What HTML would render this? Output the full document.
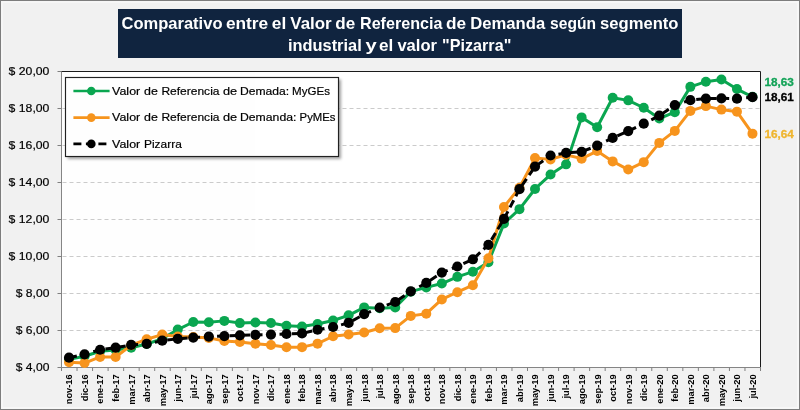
<!DOCTYPE html>
<html lang="es"><head><meta charset="utf-8"><title>Comparativo Valor de Referencia de Demanda</title>
<style>
html,body{margin:0;padding:0;background:#f1f1f1;overflow:hidden}
svg{display:block;will-change:transform;opacity:.999}
text{font-family:"Liberation Sans",sans-serif}
</style></head><body>
<svg width="800" height="410" viewBox="0 0 800 410">

<rect x="0" y="0" width="800" height="410" fill="#7d7d7d"/>
<rect x="1" y="1" width="798" height="408" fill="#f7f7f7"/>
<rect x="3" y="3" width="794" height="404" fill="#f1f1f1"/>
<rect x="118" y="9" width="564" height="49" fill="#10243f"/>
<text x="121.50" y="28.5" font-size="16.3" font-weight="bold" fill="#ffffff" textLength="101.0" lengthAdjust="spacingAndGlyphs">Comparativo</text>
<text x="225.90" y="28.5" font-size="16.3" font-weight="bold" fill="#ffffff" textLength="42.3" lengthAdjust="spacingAndGlyphs">entre</text>
<text x="271.80" y="28.5" font-size="16.3" font-weight="bold" fill="#ffffff" textLength="14.4" lengthAdjust="spacingAndGlyphs">el</text>
<text x="290.30" y="28.5" font-size="16.3" font-weight="bold" fill="#ffffff" textLength="41.4" lengthAdjust="spacingAndGlyphs">Valor</text>
<text x="335.30" y="28.5" font-size="16.3" font-weight="bold" fill="#ffffff" textLength="19.9" lengthAdjust="spacingAndGlyphs">de</text>
<text x="360.00" y="28.5" font-size="16.3" font-weight="bold" fill="#ffffff" textLength="82.4" lengthAdjust="spacingAndGlyphs">Referencia</text>
<text x="446.10" y="28.5" font-size="16.3" font-weight="bold" fill="#ffffff" textLength="20.1" lengthAdjust="spacingAndGlyphs">de</text>
<text x="470.30" y="28.5" font-size="16.3" font-weight="bold" fill="#ffffff" textLength="74.9" lengthAdjust="spacingAndGlyphs">Demanda</text>
<text x="550.10" y="28.5" font-size="16.3" font-weight="bold" fill="#ffffff" textLength="45.9" lengthAdjust="spacingAndGlyphs">según</text>
<text x="600.10" y="28.5" font-size="16.3" font-weight="bold" fill="#ffffff" textLength="78.4" lengthAdjust="spacingAndGlyphs">segmento</text>
<text x="288.00" y="51.3" font-size="16.3" font-weight="bold" fill="#ffffff" textLength="73.7" lengthAdjust="spacingAndGlyphs">industrial</text>
<text x="365.55" y="51.3" font-size="16.3" font-weight="bold" fill="#ffffff" textLength="11.2" lengthAdjust="spacingAndGlyphs">y</text>
<text x="379.05" y="51.3" font-size="16.3" font-weight="bold" fill="#ffffff" textLength="14.3" lengthAdjust="spacingAndGlyphs">el</text>
<text x="397.40" y="51.3" font-size="16.3" font-weight="bold" fill="#ffffff" textLength="39.6" lengthAdjust="spacingAndGlyphs">valor</text>
<text x="442.10" y="51.3" font-size="16.3" font-weight="bold" fill="#ffffff" textLength="69.2" lengthAdjust="spacingAndGlyphs">"Pizarra"</text>
<rect x="61.5" y="71.5" width="699.0" height="296.0" fill="#ffffff"/>
<line x1="62.5" x2="760.5" y1="330.5" y2="330.5" stroke="#cbcbcb" stroke-width="1" stroke-dasharray="4 3"/>
<line x1="62.5" x2="760.5" y1="293.5" y2="293.5" stroke="#cbcbcb" stroke-width="1" stroke-dasharray="4 3"/>
<line x1="62.5" x2="760.5" y1="256.5" y2="256.5" stroke="#cbcbcb" stroke-width="1" stroke-dasharray="4 3"/>
<line x1="62.5" x2="760.5" y1="219.5" y2="219.5" stroke="#cbcbcb" stroke-width="1" stroke-dasharray="4 3"/>
<line x1="62.5" x2="760.5" y1="182.5" y2="182.5" stroke="#cbcbcb" stroke-width="1" stroke-dasharray="4 3"/>
<line x1="62.5" x2="760.5" y1="145.5" y2="145.5" stroke="#cbcbcb" stroke-width="1" stroke-dasharray="4 3"/>
<line x1="62.5" x2="760.5" y1="108.5" y2="108.5" stroke="#cbcbcb" stroke-width="1" stroke-dasharray="4 3"/>
<path d="M61.0 71.5 H760.5 V367.5" fill="none" stroke="#1a1a1a" stroke-width="1"/>
<path d="M61.5 71.5 V367.5 H761.0" fill="none" stroke="#858585" stroke-width="1"/>
<line x1="57.5" x2="61.5" y1="367.5" y2="367.5" stroke="#7f7f7f" stroke-width="1"/>
<text x="15.8" y="371.4" font-size="11.8" fill="#000" stroke="#000" stroke-width="0.2" textLength="33.6" lengthAdjust="spacingAndGlyphs">$ 4,00</text>
<line x1="57.5" x2="61.5" y1="330.5" y2="330.5" stroke="#7f7f7f" stroke-width="1"/>
<text x="15.8" y="334.4" font-size="11.8" fill="#000" stroke="#000" stroke-width="0.2" textLength="33.6" lengthAdjust="spacingAndGlyphs">$ 6,00</text>
<line x1="57.5" x2="61.5" y1="293.5" y2="293.5" stroke="#7f7f7f" stroke-width="1"/>
<text x="15.8" y="297.4" font-size="11.8" fill="#000" stroke="#000" stroke-width="0.2" textLength="33.6" lengthAdjust="spacingAndGlyphs">$ 8,00</text>
<line x1="57.5" x2="61.5" y1="256.5" y2="256.5" stroke="#7f7f7f" stroke-width="1"/>
<text x="8.6" y="260.4" font-size="11.8" fill="#000" stroke="#000" stroke-width="0.2" textLength="40.8" lengthAdjust="spacingAndGlyphs">$ 10,00</text>
<line x1="57.5" x2="61.5" y1="219.5" y2="219.5" stroke="#7f7f7f" stroke-width="1"/>
<text x="8.6" y="223.4" font-size="11.8" fill="#000" stroke="#000" stroke-width="0.2" textLength="40.8" lengthAdjust="spacingAndGlyphs">$ 12,00</text>
<line x1="57.5" x2="61.5" y1="182.5" y2="182.5" stroke="#7f7f7f" stroke-width="1"/>
<text x="8.6" y="186.4" font-size="11.8" fill="#000" stroke="#000" stroke-width="0.2" textLength="40.8" lengthAdjust="spacingAndGlyphs">$ 14,00</text>
<line x1="57.5" x2="61.5" y1="145.5" y2="145.5" stroke="#7f7f7f" stroke-width="1"/>
<text x="8.6" y="149.4" font-size="11.8" fill="#000" stroke="#000" stroke-width="0.2" textLength="40.8" lengthAdjust="spacingAndGlyphs">$ 16,00</text>
<line x1="57.5" x2="61.5" y1="108.5" y2="108.5" stroke="#7f7f7f" stroke-width="1"/>
<text x="8.6" y="112.4" font-size="11.8" fill="#000" stroke="#000" stroke-width="0.2" textLength="40.8" lengthAdjust="spacingAndGlyphs">$ 18,00</text>
<line x1="57.5" x2="61.5" y1="71.5" y2="71.5" stroke="#7f7f7f" stroke-width="1"/>
<text x="8.6" y="75.4" font-size="11.8" fill="#000" stroke="#000" stroke-width="0.2" textLength="40.8" lengthAdjust="spacingAndGlyphs">$ 20,00</text>
<line x1="61.50" x2="61.50" y1="367.5" y2="371.0" stroke="#7f7f7f" stroke-width="1"/>
<line x1="77.03" x2="77.03" y1="367.5" y2="371.0" stroke="#7f7f7f" stroke-width="1"/>
<line x1="92.57" x2="92.57" y1="367.5" y2="371.0" stroke="#7f7f7f" stroke-width="1"/>
<line x1="108.10" x2="108.10" y1="367.5" y2="371.0" stroke="#7f7f7f" stroke-width="1"/>
<line x1="123.63" x2="123.63" y1="367.5" y2="371.0" stroke="#7f7f7f" stroke-width="1"/>
<line x1="139.17" x2="139.17" y1="367.5" y2="371.0" stroke="#7f7f7f" stroke-width="1"/>
<line x1="154.70" x2="154.70" y1="367.5" y2="371.0" stroke="#7f7f7f" stroke-width="1"/>
<line x1="170.23" x2="170.23" y1="367.5" y2="371.0" stroke="#7f7f7f" stroke-width="1"/>
<line x1="185.77" x2="185.77" y1="367.5" y2="371.0" stroke="#7f7f7f" stroke-width="1"/>
<line x1="201.30" x2="201.30" y1="367.5" y2="371.0" stroke="#7f7f7f" stroke-width="1"/>
<line x1="216.83" x2="216.83" y1="367.5" y2="371.0" stroke="#7f7f7f" stroke-width="1"/>
<line x1="232.37" x2="232.37" y1="367.5" y2="371.0" stroke="#7f7f7f" stroke-width="1"/>
<line x1="247.90" x2="247.90" y1="367.5" y2="371.0" stroke="#7f7f7f" stroke-width="1"/>
<line x1="263.43" x2="263.43" y1="367.5" y2="371.0" stroke="#7f7f7f" stroke-width="1"/>
<line x1="278.97" x2="278.97" y1="367.5" y2="371.0" stroke="#7f7f7f" stroke-width="1"/>
<line x1="294.50" x2="294.50" y1="367.5" y2="371.0" stroke="#7f7f7f" stroke-width="1"/>
<line x1="310.03" x2="310.03" y1="367.5" y2="371.0" stroke="#7f7f7f" stroke-width="1"/>
<line x1="325.57" x2="325.57" y1="367.5" y2="371.0" stroke="#7f7f7f" stroke-width="1"/>
<line x1="341.10" x2="341.10" y1="367.5" y2="371.0" stroke="#7f7f7f" stroke-width="1"/>
<line x1="356.63" x2="356.63" y1="367.5" y2="371.0" stroke="#7f7f7f" stroke-width="1"/>
<line x1="372.17" x2="372.17" y1="367.5" y2="371.0" stroke="#7f7f7f" stroke-width="1"/>
<line x1="387.70" x2="387.70" y1="367.5" y2="371.0" stroke="#7f7f7f" stroke-width="1"/>
<line x1="403.23" x2="403.23" y1="367.5" y2="371.0" stroke="#7f7f7f" stroke-width="1"/>
<line x1="418.77" x2="418.77" y1="367.5" y2="371.0" stroke="#7f7f7f" stroke-width="1"/>
<line x1="434.30" x2="434.30" y1="367.5" y2="371.0" stroke="#7f7f7f" stroke-width="1"/>
<line x1="449.83" x2="449.83" y1="367.5" y2="371.0" stroke="#7f7f7f" stroke-width="1"/>
<line x1="465.37" x2="465.37" y1="367.5" y2="371.0" stroke="#7f7f7f" stroke-width="1"/>
<line x1="480.90" x2="480.90" y1="367.5" y2="371.0" stroke="#7f7f7f" stroke-width="1"/>
<line x1="496.43" x2="496.43" y1="367.5" y2="371.0" stroke="#7f7f7f" stroke-width="1"/>
<line x1="511.97" x2="511.97" y1="367.5" y2="371.0" stroke="#7f7f7f" stroke-width="1"/>
<line x1="527.50" x2="527.50" y1="367.5" y2="371.0" stroke="#7f7f7f" stroke-width="1"/>
<line x1="543.03" x2="543.03" y1="367.5" y2="371.0" stroke="#7f7f7f" stroke-width="1"/>
<line x1="558.57" x2="558.57" y1="367.5" y2="371.0" stroke="#7f7f7f" stroke-width="1"/>
<line x1="574.10" x2="574.10" y1="367.5" y2="371.0" stroke="#7f7f7f" stroke-width="1"/>
<line x1="589.63" x2="589.63" y1="367.5" y2="371.0" stroke="#7f7f7f" stroke-width="1"/>
<line x1="605.17" x2="605.17" y1="367.5" y2="371.0" stroke="#7f7f7f" stroke-width="1"/>
<line x1="620.70" x2="620.70" y1="367.5" y2="371.0" stroke="#7f7f7f" stroke-width="1"/>
<line x1="636.23" x2="636.23" y1="367.5" y2="371.0" stroke="#7f7f7f" stroke-width="1"/>
<line x1="651.77" x2="651.77" y1="367.5" y2="371.0" stroke="#7f7f7f" stroke-width="1"/>
<line x1="667.30" x2="667.30" y1="367.5" y2="371.0" stroke="#7f7f7f" stroke-width="1"/>
<line x1="682.83" x2="682.83" y1="367.5" y2="371.0" stroke="#7f7f7f" stroke-width="1"/>
<line x1="698.37" x2="698.37" y1="367.5" y2="371.0" stroke="#7f7f7f" stroke-width="1"/>
<line x1="713.90" x2="713.90" y1="367.5" y2="371.0" stroke="#7f7f7f" stroke-width="1"/>
<line x1="729.43" x2="729.43" y1="367.5" y2="371.0" stroke="#7f7f7f" stroke-width="1"/>
<line x1="744.97" x2="744.97" y1="367.5" y2="371.0" stroke="#7f7f7f" stroke-width="1"/>
<line x1="760.50" x2="760.50" y1="367.5" y2="371.0" stroke="#7f7f7f" stroke-width="1"/>
<text transform="translate(72.42,374.3) rotate(-90)" text-anchor="end" font-size="9.3" font-weight="bold" fill="#000">nov-16</text>
<text transform="translate(87.95,374.3) rotate(-90)" text-anchor="end" font-size="9.3" font-weight="bold" fill="#000">dic-16</text>
<text transform="translate(103.48,374.3) rotate(-90)" text-anchor="end" font-size="9.3" font-weight="bold" fill="#000">ene-17</text>
<text transform="translate(119.02,374.3) rotate(-90)" text-anchor="end" font-size="9.3" font-weight="bold" fill="#000">feb-17</text>
<text transform="translate(134.55,374.3) rotate(-90)" text-anchor="end" font-size="9.3" font-weight="bold" fill="#000">mar-17</text>
<text transform="translate(150.08,374.3) rotate(-90)" text-anchor="end" font-size="9.3" font-weight="bold" fill="#000">abr-17</text>
<text transform="translate(165.62,374.3) rotate(-90)" text-anchor="end" font-size="9.3" font-weight="bold" fill="#000">may-17</text>
<text transform="translate(181.15,374.3) rotate(-90)" text-anchor="end" font-size="9.3" font-weight="bold" fill="#000">jun-17</text>
<text transform="translate(196.68,374.3) rotate(-90)" text-anchor="end" font-size="9.3" font-weight="bold" fill="#000">jul-17</text>
<text transform="translate(212.22,374.3) rotate(-90)" text-anchor="end" font-size="9.3" font-weight="bold" fill="#000">ago-17</text>
<text transform="translate(227.75,374.3) rotate(-90)" text-anchor="end" font-size="9.3" font-weight="bold" fill="#000">sep-17</text>
<text transform="translate(243.28,374.3) rotate(-90)" text-anchor="end" font-size="9.3" font-weight="bold" fill="#000">oct-17</text>
<text transform="translate(258.82,374.3) rotate(-90)" text-anchor="end" font-size="9.3" font-weight="bold" fill="#000">nov-17</text>
<text transform="translate(274.35,374.3) rotate(-90)" text-anchor="end" font-size="9.3" font-weight="bold" fill="#000">dic-17</text>
<text transform="translate(289.88,374.3) rotate(-90)" text-anchor="end" font-size="9.3" font-weight="bold" fill="#000">ene-18</text>
<text transform="translate(305.42,374.3) rotate(-90)" text-anchor="end" font-size="9.3" font-weight="bold" fill="#000">feb-18</text>
<text transform="translate(320.95,374.3) rotate(-90)" text-anchor="end" font-size="9.3" font-weight="bold" fill="#000">mar-18</text>
<text transform="translate(336.48,374.3) rotate(-90)" text-anchor="end" font-size="9.3" font-weight="bold" fill="#000">abr-18</text>
<text transform="translate(352.02,374.3) rotate(-90)" text-anchor="end" font-size="9.3" font-weight="bold" fill="#000">may-18</text>
<text transform="translate(367.55,374.3) rotate(-90)" text-anchor="end" font-size="9.3" font-weight="bold" fill="#000">jun-18</text>
<text transform="translate(383.08,374.3) rotate(-90)" text-anchor="end" font-size="9.3" font-weight="bold" fill="#000">jul-18</text>
<text transform="translate(398.62,374.3) rotate(-90)" text-anchor="end" font-size="9.3" font-weight="bold" fill="#000">ago-18</text>
<text transform="translate(414.15,374.3) rotate(-90)" text-anchor="end" font-size="9.3" font-weight="bold" fill="#000">sep-18</text>
<text transform="translate(429.68,374.3) rotate(-90)" text-anchor="end" font-size="9.3" font-weight="bold" fill="#000">oct-18</text>
<text transform="translate(445.22,374.3) rotate(-90)" text-anchor="end" font-size="9.3" font-weight="bold" fill="#000">nov-18</text>
<text transform="translate(460.75,374.3) rotate(-90)" text-anchor="end" font-size="9.3" font-weight="bold" fill="#000">dic-18</text>
<text transform="translate(476.28,374.3) rotate(-90)" text-anchor="end" font-size="9.3" font-weight="bold" fill="#000">ene-19</text>
<text transform="translate(491.82,374.3) rotate(-90)" text-anchor="end" font-size="9.3" font-weight="bold" fill="#000">feb-19</text>
<text transform="translate(507.35,374.3) rotate(-90)" text-anchor="end" font-size="9.3" font-weight="bold" fill="#000">mar-19</text>
<text transform="translate(522.88,374.3) rotate(-90)" text-anchor="end" font-size="9.3" font-weight="bold" fill="#000">abr-19</text>
<text transform="translate(538.42,374.3) rotate(-90)" text-anchor="end" font-size="9.3" font-weight="bold" fill="#000">may-19</text>
<text transform="translate(553.95,374.3) rotate(-90)" text-anchor="end" font-size="9.3" font-weight="bold" fill="#000">jun-19</text>
<text transform="translate(569.48,374.3) rotate(-90)" text-anchor="end" font-size="9.3" font-weight="bold" fill="#000">jul-19</text>
<text transform="translate(585.02,374.3) rotate(-90)" text-anchor="end" font-size="9.3" font-weight="bold" fill="#000">ago-19</text>
<text transform="translate(600.55,374.3) rotate(-90)" text-anchor="end" font-size="9.3" font-weight="bold" fill="#000">sep-19</text>
<text transform="translate(616.08,374.3) rotate(-90)" text-anchor="end" font-size="9.3" font-weight="bold" fill="#000">oct-19</text>
<text transform="translate(631.62,374.3) rotate(-90)" text-anchor="end" font-size="9.3" font-weight="bold" fill="#000">nov-19</text>
<text transform="translate(647.15,374.3) rotate(-90)" text-anchor="end" font-size="9.3" font-weight="bold" fill="#000">dic-19</text>
<text transform="translate(662.68,374.3) rotate(-90)" text-anchor="end" font-size="9.3" font-weight="bold" fill="#000">ene-20</text>
<text transform="translate(678.22,374.3) rotate(-90)" text-anchor="end" font-size="9.3" font-weight="bold" fill="#000">feb-20</text>
<text transform="translate(693.75,374.3) rotate(-90)" text-anchor="end" font-size="9.3" font-weight="bold" fill="#000">mar-20</text>
<text transform="translate(709.28,374.3) rotate(-90)" text-anchor="end" font-size="9.3" font-weight="bold" fill="#000">abr-20</text>
<text transform="translate(724.82,374.3) rotate(-90)" text-anchor="end" font-size="9.3" font-weight="bold" fill="#000">may-20</text>
<text transform="translate(740.35,374.3) rotate(-90)" text-anchor="end" font-size="9.3" font-weight="bold" fill="#000">jun-20</text>
<text transform="translate(755.88,374.3) rotate(-90)" text-anchor="end" font-size="9.3" font-weight="bold" fill="#000">jul-20</text>
<polyline points="69.02,359.36 84.55,356.21 100.08,351.22 115.62,349.93 131.15,347.70 146.68,344.00 162.22,338.82 177.75,329.57 193.28,321.99 208.82,322.18 224.35,320.88 239.88,323.10 255.42,322.55 270.95,322.92 286.48,325.69 302.02,326.43 317.55,324.02 333.08,320.51 348.62,315.33 364.15,307.38 379.68,308.30 395.22,307.56 410.75,291.65 426.28,287.39 441.82,283.51 457.35,276.85 472.88,271.67 488.42,262.24 503.95,223.57 519.48,209.14 535.02,188.97 550.55,174.55 566.08,164.37 581.62,117.38 597.15,127.19 612.68,97.77 628.22,100.36 643.75,107.76 659.28,118.49 674.82,112.20 690.35,86.85 705.88,81.68 721.42,79.45 736.95,89.07 752.48,96.85" fill="none" stroke="#0aa650" stroke-width="3" stroke-linejoin="round" stroke-linecap="round"/>
<circle cx="69.02" cy="359.36" r="5.0" fill="#0aa650"/><circle cx="84.55" cy="356.21" r="5.0" fill="#0aa650"/><circle cx="100.08" cy="351.22" r="5.0" fill="#0aa650"/><circle cx="115.62" cy="349.93" r="5.0" fill="#0aa650"/><circle cx="131.15" cy="347.70" r="5.0" fill="#0aa650"/><circle cx="146.68" cy="344.00" r="5.0" fill="#0aa650"/><circle cx="162.22" cy="338.82" r="5.0" fill="#0aa650"/><circle cx="177.75" cy="329.57" r="5.0" fill="#0aa650"/><circle cx="193.28" cy="321.99" r="5.0" fill="#0aa650"/><circle cx="208.82" cy="322.18" r="5.0" fill="#0aa650"/><circle cx="224.35" cy="320.88" r="5.0" fill="#0aa650"/><circle cx="239.88" cy="323.10" r="5.0" fill="#0aa650"/><circle cx="255.42" cy="322.55" r="5.0" fill="#0aa650"/><circle cx="270.95" cy="322.92" r="5.0" fill="#0aa650"/><circle cx="286.48" cy="325.69" r="5.0" fill="#0aa650"/><circle cx="302.02" cy="326.43" r="5.0" fill="#0aa650"/><circle cx="317.55" cy="324.02" r="5.0" fill="#0aa650"/><circle cx="333.08" cy="320.51" r="5.0" fill="#0aa650"/><circle cx="348.62" cy="315.33" r="5.0" fill="#0aa650"/><circle cx="364.15" cy="307.38" r="5.0" fill="#0aa650"/><circle cx="379.68" cy="308.30" r="5.0" fill="#0aa650"/><circle cx="395.22" cy="307.56" r="5.0" fill="#0aa650"/><circle cx="410.75" cy="291.65" r="5.0" fill="#0aa650"/><circle cx="426.28" cy="287.39" r="5.0" fill="#0aa650"/><circle cx="441.82" cy="283.51" r="5.0" fill="#0aa650"/><circle cx="457.35" cy="276.85" r="5.0" fill="#0aa650"/><circle cx="472.88" cy="271.67" r="5.0" fill="#0aa650"/><circle cx="488.42" cy="262.24" r="5.0" fill="#0aa650"/><circle cx="503.95" cy="223.57" r="5.0" fill="#0aa650"/><circle cx="519.48" cy="209.14" r="5.0" fill="#0aa650"/><circle cx="535.02" cy="188.97" r="5.0" fill="#0aa650"/><circle cx="550.55" cy="174.55" r="5.0" fill="#0aa650"/><circle cx="566.08" cy="164.37" r="5.0" fill="#0aa650"/><circle cx="581.62" cy="117.38" r="5.0" fill="#0aa650"/><circle cx="597.15" cy="127.19" r="5.0" fill="#0aa650"/><circle cx="612.68" cy="97.77" r="5.0" fill="#0aa650"/><circle cx="628.22" cy="100.36" r="5.0" fill="#0aa650"/><circle cx="643.75" cy="107.76" r="5.0" fill="#0aa650"/><circle cx="659.28" cy="118.49" r="5.0" fill="#0aa650"/><circle cx="674.82" cy="112.20" r="5.0" fill="#0aa650"/><circle cx="690.35" cy="86.85" r="5.0" fill="#0aa650"/><circle cx="705.88" cy="81.68" r="5.0" fill="#0aa650"/><circle cx="721.42" cy="79.45" r="5.0" fill="#0aa650"/><circle cx="736.95" cy="89.07" r="5.0" fill="#0aa650"/><circle cx="752.48" cy="96.85" r="5.0" fill="#0aa650"/>
<polyline points="69.02,362.13 84.55,363.06 100.08,356.95 115.62,356.95 131.15,345.30 146.68,339.19 162.22,334.57 177.75,336.42 193.28,336.98 208.82,337.90 224.35,341.05 239.88,341.97 255.42,343.82 270.95,344.93 286.48,347.33 302.02,347.15 317.55,343.63 333.08,336.24 348.62,334.57 364.15,332.54 379.68,328.28 395.22,328.10 410.75,315.88 426.28,313.67 441.82,299.42 457.35,292.20 472.88,285.18 488.42,258.35 503.95,206.92 519.48,187.68 535.02,158.08 550.55,159.38 566.08,154.75 581.62,158.64 597.15,151.05 612.68,161.41 628.22,169.55 643.75,162.15 659.28,142.91 674.82,130.89 690.35,110.90 705.88,106.10 721.42,109.61 736.95,111.65 752.48,133.66" fill="none" stroke="#f7941d" stroke-width="3" stroke-linejoin="round" stroke-linecap="round"/>
<circle cx="69.02" cy="362.13" r="5.0" fill="#f7941d"/><circle cx="84.55" cy="363.06" r="5.0" fill="#f7941d"/><circle cx="100.08" cy="356.95" r="5.0" fill="#f7941d"/><circle cx="115.62" cy="356.95" r="5.0" fill="#f7941d"/><circle cx="131.15" cy="345.30" r="5.0" fill="#f7941d"/><circle cx="146.68" cy="339.19" r="5.0" fill="#f7941d"/><circle cx="162.22" cy="334.57" r="5.0" fill="#f7941d"/><circle cx="177.75" cy="336.42" r="5.0" fill="#f7941d"/><circle cx="193.28" cy="336.98" r="5.0" fill="#f7941d"/><circle cx="208.82" cy="337.90" r="5.0" fill="#f7941d"/><circle cx="224.35" cy="341.05" r="5.0" fill="#f7941d"/><circle cx="239.88" cy="341.97" r="5.0" fill="#f7941d"/><circle cx="255.42" cy="343.82" r="5.0" fill="#f7941d"/><circle cx="270.95" cy="344.93" r="5.0" fill="#f7941d"/><circle cx="286.48" cy="347.33" r="5.0" fill="#f7941d"/><circle cx="302.02" cy="347.15" r="5.0" fill="#f7941d"/><circle cx="317.55" cy="343.63" r="5.0" fill="#f7941d"/><circle cx="333.08" cy="336.24" r="5.0" fill="#f7941d"/><circle cx="348.62" cy="334.57" r="5.0" fill="#f7941d"/><circle cx="364.15" cy="332.54" r="5.0" fill="#f7941d"/><circle cx="379.68" cy="328.28" r="5.0" fill="#f7941d"/><circle cx="395.22" cy="328.10" r="5.0" fill="#f7941d"/><circle cx="410.75" cy="315.88" r="5.0" fill="#f7941d"/><circle cx="426.28" cy="313.67" r="5.0" fill="#f7941d"/><circle cx="441.82" cy="299.42" r="5.0" fill="#f7941d"/><circle cx="457.35" cy="292.20" r="5.0" fill="#f7941d"/><circle cx="472.88" cy="285.18" r="5.0" fill="#f7941d"/><circle cx="488.42" cy="258.35" r="5.0" fill="#f7941d"/><circle cx="503.95" cy="206.92" r="5.0" fill="#f7941d"/><circle cx="519.48" cy="187.68" r="5.0" fill="#f7941d"/><circle cx="535.02" cy="158.08" r="5.0" fill="#f7941d"/><circle cx="550.55" cy="159.38" r="5.0" fill="#f7941d"/><circle cx="566.08" cy="154.75" r="5.0" fill="#f7941d"/><circle cx="581.62" cy="158.64" r="5.0" fill="#f7941d"/><circle cx="597.15" cy="151.05" r="5.0" fill="#f7941d"/><circle cx="612.68" cy="161.41" r="5.0" fill="#f7941d"/><circle cx="628.22" cy="169.55" r="5.0" fill="#f7941d"/><circle cx="643.75" cy="162.15" r="5.0" fill="#f7941d"/><circle cx="659.28" cy="142.91" r="5.0" fill="#f7941d"/><circle cx="674.82" cy="130.89" r="5.0" fill="#f7941d"/><circle cx="690.35" cy="110.90" r="5.0" fill="#f7941d"/><circle cx="705.88" cy="106.10" r="5.0" fill="#f7941d"/><circle cx="721.42" cy="109.61" r="5.0" fill="#f7941d"/><circle cx="736.95" cy="111.65" r="5.0" fill="#f7941d"/><circle cx="752.48" cy="133.66" r="5.0" fill="#f7941d"/>
<polyline points="69.02,357.69 84.55,354.37 100.08,349.74 115.62,347.70 131.15,344.93 146.68,343.82 162.22,340.68 177.75,338.82 193.28,337.53 208.82,336.61 224.35,336.05 239.88,335.31 255.42,334.94 270.95,334.57 286.48,334.01 302.02,333.46 317.55,329.76 333.08,326.99 348.62,322.92 364.15,314.22 379.68,307.56 395.22,302.01 410.75,291.28 426.28,282.95 441.82,272.59 457.35,266.49 472.88,259.27 488.42,244.84 503.95,218.95 519.48,189.16 535.02,166.59 550.55,155.49 566.08,152.90 581.62,151.79 597.15,145.69 612.68,137.91 628.22,131.07 643.75,123.67 659.28,115.72 674.82,105.17 690.35,100.18 705.88,98.69 721.42,98.32 736.95,98.69 752.48,97.22" fill="none" stroke="#000000" stroke-width="3" stroke-dasharray="8 4.5" stroke-linejoin="round"/>
<circle cx="69.02" cy="357.69" r="5.1" fill="#000000"/><circle cx="84.55" cy="354.37" r="5.1" fill="#000000"/><circle cx="100.08" cy="349.74" r="5.1" fill="#000000"/><circle cx="115.62" cy="347.70" r="5.1" fill="#000000"/><circle cx="131.15" cy="344.93" r="5.1" fill="#000000"/><circle cx="146.68" cy="343.82" r="5.1" fill="#000000"/><circle cx="162.22" cy="340.68" r="5.1" fill="#000000"/><circle cx="177.75" cy="338.82" r="5.1" fill="#000000"/><circle cx="193.28" cy="337.53" r="5.1" fill="#000000"/><circle cx="208.82" cy="336.61" r="5.1" fill="#000000"/><circle cx="224.35" cy="336.05" r="5.1" fill="#000000"/><circle cx="239.88" cy="335.31" r="5.1" fill="#000000"/><circle cx="255.42" cy="334.94" r="5.1" fill="#000000"/><circle cx="270.95" cy="334.57" r="5.1" fill="#000000"/><circle cx="286.48" cy="334.01" r="5.1" fill="#000000"/><circle cx="302.02" cy="333.46" r="5.1" fill="#000000"/><circle cx="317.55" cy="329.76" r="5.1" fill="#000000"/><circle cx="333.08" cy="326.99" r="5.1" fill="#000000"/><circle cx="348.62" cy="322.92" r="5.1" fill="#000000"/><circle cx="364.15" cy="314.22" r="5.1" fill="#000000"/><circle cx="379.68" cy="307.56" r="5.1" fill="#000000"/><circle cx="395.22" cy="302.01" r="5.1" fill="#000000"/><circle cx="410.75" cy="291.28" r="5.1" fill="#000000"/><circle cx="426.28" cy="282.95" r="5.1" fill="#000000"/><circle cx="441.82" cy="272.59" r="5.1" fill="#000000"/><circle cx="457.35" cy="266.49" r="5.1" fill="#000000"/><circle cx="472.88" cy="259.27" r="5.1" fill="#000000"/><circle cx="488.42" cy="244.84" r="5.1" fill="#000000"/><circle cx="503.95" cy="218.95" r="5.1" fill="#000000"/><circle cx="519.48" cy="189.16" r="5.1" fill="#000000"/><circle cx="535.02" cy="166.59" r="5.1" fill="#000000"/><circle cx="550.55" cy="155.49" r="5.1" fill="#000000"/><circle cx="566.08" cy="152.90" r="5.1" fill="#000000"/><circle cx="581.62" cy="151.79" r="5.1" fill="#000000"/><circle cx="597.15" cy="145.69" r="5.1" fill="#000000"/><circle cx="612.68" cy="137.91" r="5.1" fill="#000000"/><circle cx="628.22" cy="131.07" r="5.1" fill="#000000"/><circle cx="643.75" cy="123.67" r="5.1" fill="#000000"/><circle cx="659.28" cy="115.72" r="5.1" fill="#000000"/><circle cx="674.82" cy="105.17" r="5.1" fill="#000000"/><circle cx="690.35" cy="100.18" r="5.1" fill="#000000"/><circle cx="705.88" cy="98.69" r="5.1" fill="#000000"/><circle cx="721.42" cy="98.32" r="5.1" fill="#000000"/><circle cx="736.95" cy="98.69" r="5.1" fill="#000000"/><circle cx="752.48" cy="97.22" r="5.1" fill="#000000"/>
<text x="764.4" y="86.4" font-size="11" font-weight="bold" stroke-width="0.3" stroke="#12a357" fill="#12a357" textLength="29.4" lengthAdjust="spacingAndGlyphs">18,63</text>
<text x="764.4" y="101.0" font-size="11" font-weight="bold" stroke-width="0.3" stroke="#000" fill="#000" textLength="29.4" lengthAdjust="spacingAndGlyphs">18,61</text>
<text x="764.4" y="137.9" font-size="11" font-weight="bold" stroke-width="0.3" stroke="#efb52e" fill="#efb52e" textLength="29.4" lengthAdjust="spacingAndGlyphs">16,64</text>
<rect x="67.5" y="79.5" width="273.5" height="79.5" fill="#444" opacity="0.5" style="filter:blur(1.6px)"/>
<rect x="65.5" y="77.5" width="273" height="79" fill="#ffffff" stroke="#202020" stroke-width="1.15"/>
<line x1="73.4" x2="109.6" y1="91.0" y2="91.0" stroke="#0aa650" stroke-width="2.6"/>
<circle cx="91.3" cy="91.0" r="4.3" fill="#0aa650"/>
<text x="112.10" y="94.8" font-size="11.7" fill="#000" stroke="#000" stroke-width="0.2" textLength="28.1" lengthAdjust="spacingAndGlyphs">Valor</text>
<text x="144.00" y="94.8" font-size="11.7" fill="#000" stroke="#000" stroke-width="0.2" textLength="13.8" lengthAdjust="spacingAndGlyphs">de</text>
<text x="161.40" y="94.8" font-size="11.7" fill="#000" stroke="#000" stroke-width="0.2" textLength="58.1" lengthAdjust="spacingAndGlyphs">Referencia</text>
<text x="223.00" y="94.8" font-size="11.7" fill="#000" stroke="#000" stroke-width="0.2" textLength="14.2" lengthAdjust="spacingAndGlyphs">de</text>
<text x="240.00" y="94.8" font-size="11.7" fill="#000" stroke="#000" stroke-width="0.2" textLength="49.2" lengthAdjust="spacingAndGlyphs">Demada:</text>
<text x="292.10" y="94.8" font-size="11.7" fill="#000" stroke="#000" stroke-width="0.2" textLength="37.9" lengthAdjust="spacingAndGlyphs">MyGEs</text>
<line x1="73.4" x2="109.6" y1="117.6" y2="117.6" stroke="#f7941d" stroke-width="2.6"/>
<circle cx="91.3" cy="117.6" r="4.3" fill="#f7941d"/>
<text x="112.10" y="121.3" font-size="11.7" fill="#000" stroke="#000" stroke-width="0.2" textLength="28.1" lengthAdjust="spacingAndGlyphs">Valor</text>
<text x="144.00" y="121.3" font-size="11.7" fill="#000" stroke="#000" stroke-width="0.2" textLength="13.8" lengthAdjust="spacingAndGlyphs">de</text>
<text x="161.40" y="121.3" font-size="11.7" fill="#000" stroke="#000" stroke-width="0.2" textLength="58.1" lengthAdjust="spacingAndGlyphs">Referencia</text>
<text x="223.00" y="121.3" font-size="11.7" fill="#000" stroke="#000" stroke-width="0.2" textLength="14.2" lengthAdjust="spacingAndGlyphs">de</text>
<text x="240.00" y="121.3" font-size="11.7" fill="#000" stroke="#000" stroke-width="0.2" textLength="56.4" lengthAdjust="spacingAndGlyphs">Demanda:</text>
<text x="299.60" y="121.3" font-size="11.7" fill="#000" stroke="#000" stroke-width="0.2" textLength="35.9" lengthAdjust="spacingAndGlyphs">PyMEs</text>
<line x1="73.4" x2="109.6" y1="143.9" y2="143.9" stroke="#000000" stroke-width="2.6" stroke-dasharray="8 4.5"/>
<circle cx="91.3" cy="143.9" r="4.3" fill="#000000"/>
<text x="112.10" y="147.7" font-size="11.7" fill="#000" stroke="#000" stroke-width="0.2" textLength="28.1" lengthAdjust="spacingAndGlyphs">Valor</text>
<text x="144.00" y="147.7" font-size="11.7" fill="#000" stroke="#000" stroke-width="0.2" textLength="37.8" lengthAdjust="spacingAndGlyphs">Pizarra</text>
</svg></body></html>
